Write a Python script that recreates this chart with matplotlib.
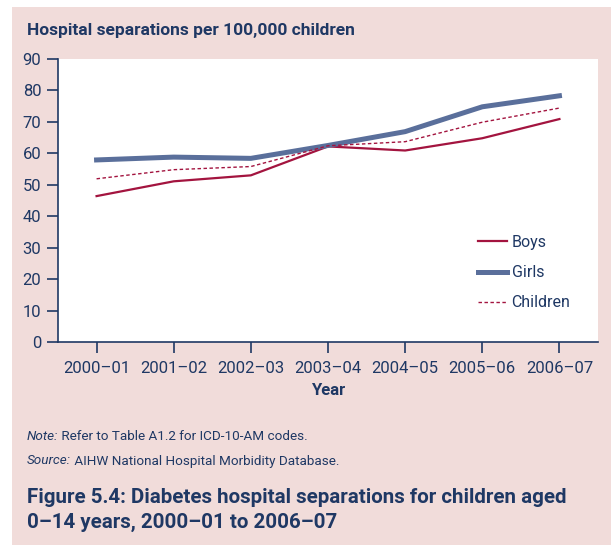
import matplotlib
matplotlib.use("Agg")
import matplotlib.pyplot as plt
from matplotlib.patches import Rectangle

# Data
years = ["2000–01", "2001–02", "2002–03", "2003–04", "2004–05", "2005–06", "2006–07"]
boys = [46.4, 51.1, 53.0, 62.2, 60.9, 64.8, 70.9]
girls = [57.9, 58.8, 58.4, 62.5, 66.9, 74.8, 78.3]
children = [51.9, 54.8, 55.8, 62.4, 63.7, 69.9, 74.4]
yticks = list(range(0, 100, 10))

navy = "#1F3864"
pink = "#F1DCDA"
boys_col = "#A3143F"
girls_col = "#5A6F9B"

plt.rcParams["font.family"] = ["Roboto", "DejaVu Sans"]

fig = plt.figure(figsize=(6.11, 5.45), dpi=100)
fig.patch.set_facecolor("white")
# pink panel behind everything
fig.patches.append(Rectangle((12 / 611, 0), 1, 1 - 7 / 545, transform=fig.transFigure,
                             facecolor=pink, edgecolor="none", zorder=-10))

ax = fig.add_axes([58 / 611, 1 - 342 / 545, (598 - 58) / 611, (342 - 59) / 545])
ax.set_facecolor("white")

x = range(len(years))
ax.plot(x, boys, color=boys_col, lw=1.6, label="Boys")
ax.plot(x, girls, color=girls_col, lw=3.6, label="Girls")
ax.plot(x, children, color=boys_col, lw=1.0, linestyle=(0, (2.5, 1.8)), label="Children")

ax.set_xlim(-0.5, 6.5)
ax.set_ylim(0, 90)
ax.set_yticks(yticks)
ax.set_xticks(list(x))
ax.set_xticklabels(years)

for s in ["top", "right"]:
    ax.spines[s].set_visible(False)
for s in ["left", "bottom"]:
    ax.spines[s].set_color(navy)
    ax.spines[s].set_linewidth(1.2)
ax.tick_params(axis="both", colors=navy, labelcolor=navy, labelsize=12, length=8, width=1.2)
ax.tick_params(axis="x", pad=6)
ax.tick_params(axis="y", pad=4)

ax.set_xlabel("Year", color=navy, fontsize=12, fontweight="bold", labelpad=5)

leg = ax.legend(loc="center left", bbox_to_anchor=(0.766, 0.245), borderaxespad=0,
                frameon=False, fontsize=11.5, handlelength=1.8, handletextpad=0.3,
                labelspacing=0.95)
for t in leg.get_texts():
    t.set_color(navy)

fig.text(27 / 611, 1 - 31 / 545, "Hospital separations per 100,000 children",
         color=navy, fontsize=12.5, fontweight="bold", va="center", ha="left")

# note line: italic "Note:" followed by plain text
fig.canvas.draw()
r = fig.canvas.get_renderer()
for ypix, lead, rest in [(436, "Note:", " Refer to Table A1.2 for ICD-10-AM codes."),
                         (461, "Source:", " AIHW National Hospital Morbidity Database.")]:
    t1 = fig.text(27 / 611, 1 - ypix / 545, lead, color=navy, fontsize=9.7,
                  style="italic", va="center", ha="left")
    w = t1.get_window_extent(renderer=r).width
    fig.text((27 + w) / 611, 1 - ypix / 545, rest, color=navy, fontsize=9.7,
             va="center", ha="left")

fig.text(27 / 611, 1 - 510 / 545,
         "Figure 5.4: Diabetes hospital separations for children aged\n0–14 years, 2000–01 to 2006–07",
         color=navy, fontsize=14.8, fontweight="bold", va="center", ha="left", linespacing=1.35)

fig.savefig("out.png", dpi=100, facecolor=fig.get_facecolor())
